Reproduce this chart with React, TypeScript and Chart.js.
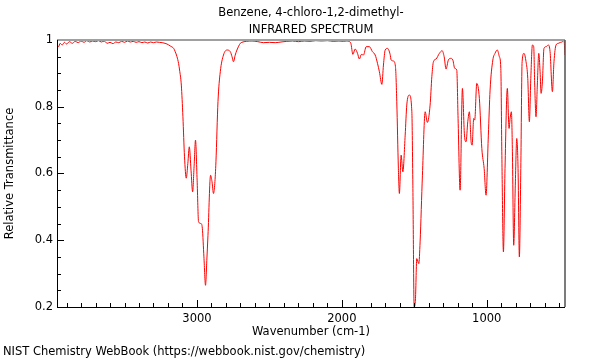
import React, { useEffect, useRef } from "react";
import { Chart, registerables } from "chart.js";

Chart.register(...registerables);

const TITLE_LINES = ["Benzene, 4-chloro-1,2-dimethyl-", "INFRARED SPECTRUM"];
const X_LABEL = "Wavenumber (cm-1)";
const Y_LABEL = "Relative Transmittance";
const FOOTER = "NIST Chemistry WebBook (https://webbook.nist.gov/chemistry)";
const X_TICKS = [3000, 2000, 1000];
const Y_TICKS = [0.2, 0.4, 0.6, 0.8, 1];

const wavenumbers = [
  3966, 3955, 3945, 3930, 3915, 3900, 3880, 3860, 3840, 3820,
  3800, 3780, 3760, 3740, 3720, 3700, 3680, 3660, 3640, 3620,
  3600, 3580, 3560, 3540, 3520, 3500, 3480, 3460, 3440, 3420,
  3400, 3380, 3360, 3340, 3320, 3300, 3280, 3260, 3240, 3220,
  3207, 3184, 3161, 3150, 3138, 3127, 3120, 3108, 3097, 3086,
  3074, 3063, 3053, 3041, 3030, 3020, 3010, 2999, 2989, 2972,
  2963, 2952, 2941, 2932, 2924, 2906, 2896, 2886, 2877, 2869,
  2855, 2839, 2817, 2793, 2770, 2758, 2748, 2736, 2724, 2701,
  2690, 2660, 2620, 2580, 2540, 2500, 2460, 2420, 2380, 2340,
  2300, 2260, 2220, 2180, 2140, 2100, 2060, 2020, 1990, 1970,
  1954, 1938, 1924, 1908, 1892, 1879, 1865, 1851, 1832, 1810,
  1789, 1770, 1754, 1741, 1724, 1713, 1701, 1685, 1667, 1660,
  1644, 1630, 1621, 1610, 1603, 1591, 1579, 1563, 1552, 1534,
  1517, 1510, 1501, 1492, 1483, 1469, 1460, 1444, 1425, 1410,
  1391, 1379, 1368, 1350, 1327, 1308, 1294, 1281, 1265, 1248,
  1234, 1221, 1207, 1198, 1184, 1168, 1154, 1143, 1131, 1120,
  1108, 1101, 1090, 1083, 1069, 1051, 1034, 1018, 1005, 989,
  977, 958, 943, 927, 913, 903, 896, 885, 874, 858,
  846, 839, 830, 823, 814, 803, 793, 784, 775, 765,
  756, 743, 729, 717, 706, 696, 685, 676, 669, 660,
  651, 641, 632, 625, 616, 605, 591, 575, 563, 547,
  536, 522, 506, 490, 476, 467, 460,
];

const transmittance = [
  0.985, 0.98, 0.99, 0.985, 0.993, 0.988, 0.995, 0.99, 0.996, 0.992,
  0.997, 0.993, 0.998, 0.994, 0.997, 0.995, 0.998, 0.994, 0.997, 0.99,
  0.993, 0.989, 0.994, 0.992, 0.996, 0.993, 0.997, 0.994, 0.996, 0.993,
  0.995, 0.992, 0.994, 0.991, 0.994, 0.992, 0.994, 0.993, 0.992, 0.99,
  0.988, 0.982, 0.975, 0.965, 0.95, 0.93, 0.91, 0.865, 0.77, 0.65,
  0.586, 0.63, 0.68, 0.61, 0.545, 0.62, 0.7, 0.58, 0.455, 0.45,
  0.436, 0.35, 0.265, 0.34, 0.415, 0.595, 0.575, 0.54, 0.57, 0.635,
  0.815, 0.905, 0.955, 0.97, 0.965, 0.95, 0.935, 0.955, 0.97, 0.99,
  0.993, 0.996, 0.997, 0.995, 0.992, 0.993, 0.992, 0.994, 0.996, 0.997,
  0.995, 0.997, 0.996, 0.998, 0.997, 0.998, 0.996, 0.997, 0.996, 0.997,
  0.996, 0.99, 0.957, 0.973, 0.96, 0.943, 0.957, 0.955, 0.98, 0.98,
  0.965, 0.955, 0.93, 0.905, 0.867, 0.925, 0.97, 0.975, 0.957, 0.94,
  0.937, 0.92, 0.815, 0.616, 0.54, 0.655, 0.605, 0.715, 0.805, 0.835,
  0.785, 0.565, 0.2, 0.225, 0.345, 0.33, 0.395, 0.595, 0.785, 0.753,
  0.805, 0.89, 0.935, 0.943, 0.96, 0.968, 0.95, 0.913, 0.94, 0.945,
  0.94, 0.915, 0.91, 0.765, 0.55, 0.855, 0.715, 0.695, 0.755, 0.785,
  0.695, 0.685, 0.765, 0.76, 0.87, 0.825, 0.675, 0.615, 0.535, 0.715,
  0.85, 0.94, 0.96, 0.97, 0.95, 0.915, 0.665, 0.365, 0.615, 0.855,
  0.735, 0.765, 0.785, 0.665, 0.385, 0.565, 0.705, 0.615, 0.35, 0.615,
  0.935, 0.96, 0.935, 0.885, 0.755, 0.885, 0.985, 0.98, 0.865, 0.77,
  0.865, 0.96, 0.905, 0.84, 0.875, 0.975, 0.98, 0.985, 0.965, 0.845,
  0.935, 0.985, 0.99, 0.993, 0.995, 1.0, 0.955,
];

const FONT = "DejaVu Sans";
const FONT_SIZE = 11.5;

const framePlugin = {
  id: "frame",
  afterDraw(chart: any) {
    const { ctx, chartArea, scales } = chart;
    const { left, right, top, bottom } = chartArea;
    const x = scales.x;
    const y = scales.y;
    ctx.save();
    ctx.strokeStyle = "#000";
    ctx.lineWidth = 1;
    ctx.beginPath();
    for (let w = 500; w <= 3900; w += 100) {
      const px = Math.round(x.getPixelForValue(w)) + 0.5;
      const len = w % 1000 === 0 ? 7 : 4;
      ctx.moveTo(px, bottom);
      ctx.lineTo(px, bottom - len);
    }
    for (let i = 0; i <= 16; i++) {
      const v = 0.2 + i * 0.05;
      const py = Math.round(y.getPixelForValue(v)) + 0.5;
      const major = i % 4 === 0;
      const len = major ? 7 : 4;
      ctx.moveTo(left, py);
      ctx.lineTo(left + len, py);
    }
    ctx.stroke();
    ctx.strokeStyle = "#a0a0a0";
    ctx.lineWidth = 2;
    ctx.beginPath();
    ctx.moveTo(left, top);
    ctx.lineTo(right, top);
    ctx.stroke();
    ctx.strokeStyle = "#505050";
    ctx.lineWidth = 1.5;
    ctx.beginPath();
    ctx.moveTo(right, top);
    ctx.lineTo(right, bottom);
    ctx.stroke();
    ctx.strokeStyle = "#000";
    ctx.lineWidth = 1;
    ctx.beginPath();
    ctx.moveTo(left + 0.5, top);
    ctx.lineTo(left + 0.5, bottom + 0.5);
    ctx.lineTo(right, bottom + 0.5);
    ctx.stroke();
    ctx.fillStyle = "#000";
    ctx.font = `${FONT_SIZE}px '${FONT}'`;
    ctx.textAlign = "center";
    ctx.textBaseline = "middle";
    const cx = (left + right) / 2;
    ctx.fillText(TITLE_LINES[0], cx, 13);
    ctx.fillText(TITLE_LINES[1], cx, 30);
    ctx.fillText(X_LABEL, cx, 332);
    ctx.textAlign = "left";
    ctx.fillText(FOOTER, 3, 352);
    ctx.save();
    ctx.translate(10, (top + bottom) / 2);
    ctx.rotate(-Math.PI / 2);
    ctx.textAlign = "center";
    ctx.fillText(Y_LABEL, 0, 0);
    ctx.restore();
    ctx.restore();
  },
};

export default function App() {
  const ref = useRef<HTMLCanvasElement>(null);
  useEffect(() => {
    if (!ref.current) return;
    Chart.defaults.font.family = FONT;
    const data = wavenumbers.map((w, i) => ({ x: w, y: transmittance[i] }));
    const chart = new Chart(ref.current, {
      type: "line",
      data: {
        datasets: [
          {
            data,
            borderColor: "#ff0000",
            borderWidth: 1,
            pointRadius: 0,
            fill: false,
            cubicInterpolationMode: "monotone",
          },
        ],
      },
      options: {
        responsive: false,
        devicePixelRatio: 1,
        animation: false,
        layout: { padding: { left: 0, right: 35, top: 40, bottom: 0 } },
        plugins: {
          legend: { display: false },
          tooltip: { enabled: false },
          title: { display: false },
        },
        scales: {
          x: {
            type: "linear",
            reverse: true,
            min: 460,
            max: 3966,
            grid: { display: false, drawTicks: false },
            border: { display: false },
            ticks: {
              color: "#000",
              font: { family: FONT, size: FONT_SIZE },
              padding: 5,
              maxRotation: 0,
              autoSkip: false,
              callback: (v: any) => String(v),
            },
            afterBuildTicks: (s: any) => {
              s.ticks = X_TICKS.map((v) => ({ value: v }));
            },
            afterFit: (s: any) => {
              s.height = 53;
            },
          },
          y: {
            type: "linear",
            min: 0.2,
            max: 1,
            grid: { display: false, drawTicks: false },
            border: { display: false },
            ticks: {
              color: "#000",
              font: { family: FONT, size: FONT_SIZE },
              padding: 4,
              autoSkip: false,
              callback: (v: any) => (Math.abs(v - 1) < 1e-9 ? "1" : Number(v).toFixed(1)),
            },
            afterBuildTicks: (s: any) => {
              s.ticks = Y_TICKS.map((v) => ({ value: v }));
            },
            afterFit: (s: any) => {
              s.width = 57;
            },
          },
        },
      },
      plugins: [framePlugin],
    });
    return () => chart.destroy();
  }, []);
  return (
    <div style={{ position: "fixed", left: 0, top: 0, width: 600, height: 360, background: "#fff" }}>
      <canvas ref={ref} width={600} height={360} style={{ width: 600, height: 360 }} />
    </div>
  );
}
